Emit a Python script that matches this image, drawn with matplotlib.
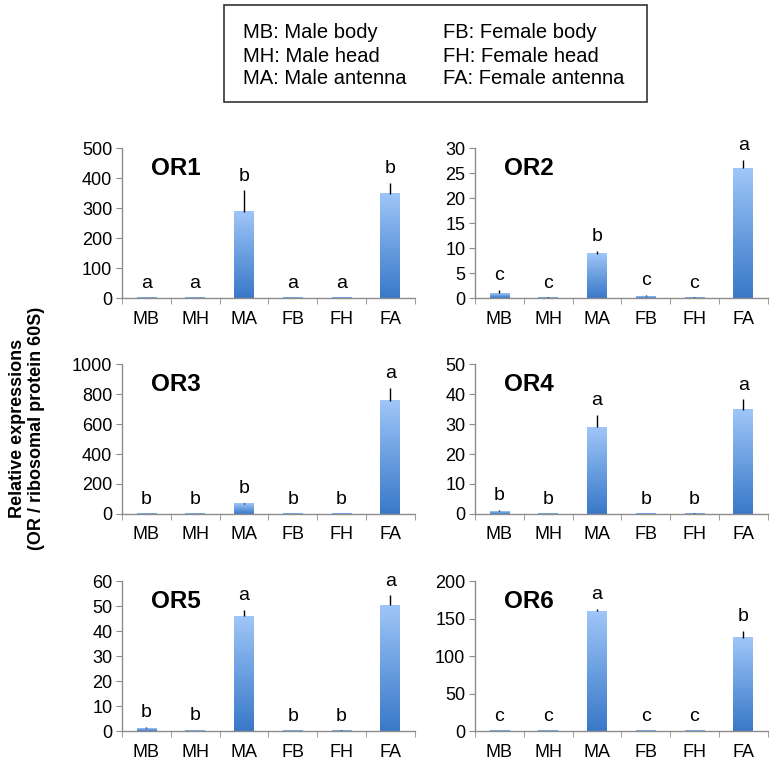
import matplotlib.pyplot as plt
import numpy as np
from matplotlib.colors import LinearSegmentedColormap
from matplotlib.patches import Rectangle

tissues = ["MB", "MH", "MA", "FB", "FH", "FA"]
genes = ["OR1", "OR2", "OR3", "OR4", "OR5", "OR6"]

or1_mean = [0.8, 0.5, 287, 0.5, 0.4, 347]
or1_err = [0.5, 0.3, 72, 0.3, 0.2, 37]
or1_sig = ["a", "a", "b", "a", "a", "b"]

or2_mean = [1.0, 0.1, 8.9, 0.4, 0.1, 26.0]
or2_err = [0.6, 0.05, 0.5, 0.3, 0.05, 1.6]
or2_sig = ["c", "c", "b", "c", "c", "a"]

or3_mean = [1.0, 0.8, 67, 0.5, 0.5, 755]
or3_err = [0.5, 0.5, 8, 0.3, 0.3, 88]
or3_sig = ["b", "b", "b", "b", "b", "a"]

or4_mean = [1.0, 0.1, 28.9, 0.1, 0.15, 34.7]
or4_err = [0.3, 0.05, 4.1, 0.05, 0.05, 3.5]
or4_sig = ["b", "b", "a", "b", "b", "a"]

or5_mean = [1.06, 0.3, 45.9, 0.05, 0.2, 50.3]
or5_err = [0.5, 0.1, 2.7, 0.05, 0.1, 4.0]
or5_sig = ["b", "b", "a", "b", "b", "a"]

or6_mean = [0.3, 0.1, 160, 0.1, 0.1, 124.7]
or6_err = [0.2, 0.1, 3, 0.1, 0.1, 9]
or6_sig = ["c", "c", "a", "c", "c", "b"]

y_max = [500, 30, 1000, 50, 60, 200]
y_step = [100, 5, 200, 10, 10, 50]

legend_left = ["MB: Male body", "MH: Male head", "MA: Male antenna"]
legend_right = ["FB: Female body", "FH: Female head", "FA: Female antenna"]

means = [or1_mean, or2_mean, or3_mean, or4_mean, or5_mean, or6_mean]
errs = [or1_err, or2_err, or3_err, or4_err, or5_err, or6_err]
sigs = [or1_sig, or2_sig, or3_sig, or4_sig, or5_sig, or6_sig]

plt.rcParams["font.family"] = ["Liberation Sans", "DejaVu Sans"]

fig = plt.figure(figsize=(7.72, 7.61), dpi=100)

cmap = LinearSegmentedColormap.from_list("bar", ["#3a78c8", "#6a9fe0", "#a0c6f8"])
gradient = np.linspace(0, 1, 256).reshape(-1, 1)

lefts = [0.158, 0.6153]
bottoms = [0.6084, 0.3246, 0.0394]
width = 0.379
height = 0.197
axis_grey = "#8c8c8c"

for i, gene in enumerate(genes):
    ax = fig.add_axes([lefts[i % 2], bottoms[i // 2], width, height])
    x = np.arange(len(tissues))
    bars = ax.bar(x, means[i], width=0.4, color="none", edgecolor="none", zorder=2)
    for bar in bars:
        h = bar.get_height()
        if h <= 0:
            continue
        bx = bar.get_x()
        ax.imshow(gradient, cmap=cmap, origin="lower", aspect="auto",
                  extent=(bx, bx + bar.get_width(), 0, h), zorder=2)
    ax.errorbar(x, means[i], yerr=[np.zeros(len(x)), errs[i]], fmt="none",
                ecolor="black", elinewidth=1.0, capsize=0, zorder=3)
    for xi, m, e, s in zip(x, means[i], errs[i], sigs[i]):
        ax.annotate(s, (xi, m + e), xytext=(0, 7), textcoords="offset points",
                    ha="center", va="baseline", fontsize=14)
    ax.text(0.1, 0.94, gene, transform=ax.transAxes, fontsize=17.5,
            fontweight="bold", ha="left", va="top")

    ax.set_xlim(-0.5, len(tissues) - 0.5)
    ax.set_ylim(0, y_max[i])
    ax.set_yticks(np.arange(0, y_max[i] + y_step[i] / 2, y_step[i]))
    ax.set_xticks(x)
    ax.set_xticklabels(tissues)
    ax.set_xticks(np.arange(-0.5, len(tissues), 1.0), minor=True)
    ax.tick_params(axis="x", which="major", length=0, pad=9, labelsize=13)
    ax.tick_params(axis="x", which="minor", length=4, color=axis_grey, direction="out")
    ax.tick_params(axis="y", length=4, color=axis_grey, labelsize=13, pad=3)
    for side in ["top", "right"]:
        ax.spines[side].set_visible(False)
    for side in ["left", "bottom"]:
        ax.spines[side].set_color(axis_grey)
        ax.spines[side].set_linewidth(1.0)
    ax.set_facecolor("none")

fig.text(0.035, 0.437, "Relative expressions\n(OR / ribosomal protein 60S)",
         rotation=90, ha="center", va="center", fontsize=13,
         fontweight="bold", linespacing=1.1)

# legend box at the top
box = Rectangle((224 / 772, 1 - 102 / 761), 423 / 772, 97 / 761,
                transform=fig.transFigure, facecolor="white",
                edgecolor="#333333", linewidth=1.2)
fig.patches.append(box)
rows_y = [33, 56, 79]
for txt, yy in zip(legend_left, rows_y):
    fig.text(243 / 772, 1 - yy / 761, txt, fontsize=14.5, ha="left", va="center")
for txt, yy in zip(legend_right, rows_y):
    fig.text(443 / 772, 1 - yy / 761, txt, fontsize=14.5, ha="left", va="center")

fig.savefig("out.png", dpi=100)
